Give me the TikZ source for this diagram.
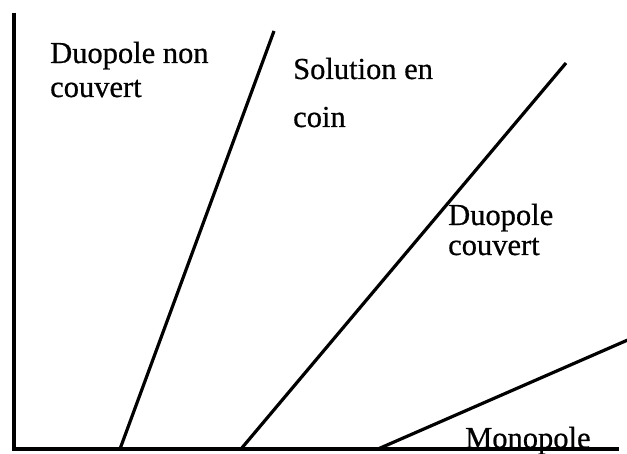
\documentclass[tikz,border=0pt]{standalone}
\usepackage{fontspec}
\setmainfont{Liberation Serif}[FakeBold=0.6]
\begin{document}
\begin{tikzpicture}[x=1pt,y=-1pt,
  axis/.style={line width=3.2pt},
  bound/.style={line width=3.2pt},
  lbl/.style={anchor=base west,inner sep=0pt,font=\fontsize{30.5}{34}\selectfont}]
\useasboundingbox (0,0) rectangle (627,454);
\clip (0,0) rectangle (627,454);
\coordinate (O) at (14,449);
\coordinate (Ytop) at (14,13);
\coordinate (Xend) at (619,449);
\coordinate (a0) at (120,449);
\coordinate (a1) at (274,31);
\coordinate (b0) at (241,449);
\coordinate (b1) at (566,63);
\coordinate (c0) at (378,449);
\coordinate (c1) at (630,339);
\draw[axis] (Ytop) -- (O) -- (Xend);
\draw[bound] (a0) -- (a1);
\draw[bound] (b0) -- (b1);
\draw[bound] (c0) -- (c1);
\node[lbl] (dnc1) at (50,63) {Duopole non};
\node[lbl] (dnc2) at (50,97) {couvert};
\node[lbl] (sc1) at (293,79) {Solution en};
\node[lbl] (sc2) at (293,127) {coin};
\node[lbl] (dc1) at (448,225) {Duopole};
\node[lbl] (dc2) at (448,255) {couvert};
\node[lbl] (mono) at (465,448) {Monopole};
\end{tikzpicture}
\end{document}
